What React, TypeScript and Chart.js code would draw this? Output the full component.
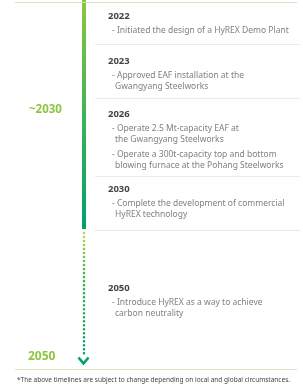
import React, { useEffect, useRef } from "react";
import { Chart, registerables } from "chart.js";

Chart.register(...registerables);

// ---- data ----
const milestoneYears = ["2022", "2023", "2026", "2030", "2050"];
const milestoneItems: string[][][] = [
  [["- Initiated the design of a HyREX Demo Plant"]],
  [["- Approved EAF installation at the", "Gwangyang Steelworks"]],
  [
    ["- Operate 2.5 Mt-capacity EAF at", "the Gwangyang Steelworks"],
    ["- Operate a 300t-capacity top and bottom", "blowing furnace at the Pohang Steelworks"],
  ],
  [["- Complete the development of commercial", "HyREX technology"]],
  [["- Introduce HyREX as a way to achieve", "carbon neutrality"]],
];
const phaseLabels = ["~2030", "2050"];
const footnote =
  "*The above timelines are subject to change depending on local and global circumstances.";

// ---- layout (pixel-like units on hidden linear scales) ----
const W = 303;
const H = 384;
const spineX = 84;
const headingY = [16, 61, 114, 189, 288];
const separatorY = [44, 98, 176, 230];
const phaseLabelY = [110, 357];
const solidEnd = 229;
const dottedStart = 233;
const dottedEnd = 360;

function makeGradient(ctx: any, y0: number, y1: number, stops: [number, string][], fallback: string) {
  const chart = ctx.chart;
  const ys = chart.scales && chart.scales.y;
  if (!chart.chartArea || !ys) return fallback;
  const p0 = ys.getPixelForValue(y0);
  const p1 = ys.getPixelForValue(y1);
  if (!isFinite(p0) || !isFinite(p1)) return fallback;
  const g = chart.ctx.createLinearGradient(0, p0, 0, p1);
  stops.forEach(([o, c]) => g.addColorStop(o, c));
  return g;
}

export default function App() {
  const ref = useRef<HTMLCanvasElement | null>(null);
  useEffect(() => {
    document.body.style.margin = "0";
    const canvas = ref.current!;
    const textPlugin = {
      id: "timelineText",
      afterDraw(chart: any) {
        const ctx = chart.ctx as CanvasRenderingContext2D;
        const xs = chart.scales.x;
        const ys = chart.scales.y;
        const X = (v: number) => xs.getPixelForValue(v);
        const Y = (v: number) => ys.getPixelForValue(v);
        ctx.save();
        // top & bottom rules
        ctx.strokeStyle = "#d6e4c6";
        ctx.lineWidth = 1;
        ctx.beginPath();
        ctx.moveTo(X(15), Y(2.5));
        ctx.lineTo(X(297), Y(2.5));
        ctx.moveTo(X(15), Y(369.5));
        ctx.lineTo(X(297), Y(369.5));
        ctx.stroke();
        // separators
        separatorY.forEach((sy, i) => {
          const last = i === separatorY.length - 1;
          ctx.strokeStyle = last ? "#e2e2e2" : "#ebebeb";
          ctx.setLineDash(last ? [3, 1] : []);
          ctx.beginPath();
          ctx.moveTo(X(95), Y(sy) + 0.5);
          ctx.lineTo(X(300), Y(sy) + 0.5);
          ctx.stroke();
        });
        ctx.setLineDash([]);
        // phase labels
        ctx.textBaseline = "middle";
        ctx.fillStyle = "#8cc63f";
        ctx.font = "bold 11.5px 'Noto Sans'";
        ctx.fillText(phaseLabels[0], X(29), Y(phaseLabelY[0]));
        ctx.font = "bold 12px 'Noto Sans'";
        ctx.fillText(phaseLabels[1], X(28), Y(phaseLabelY[1]));
        // milestones
        milestoneYears.forEach((yr, i) => {
          let y = headingY[i];
          ctx.fillStyle = "#444";
          ctx.font = "bold 9.5px 'Noto Sans'";
          ctx.fillText(yr, X(108), Y(y));
          y += 14.5;
          ctx.fillStyle = "#808080";
          ctx.font = "8.5px 'Noto Sans'";
          milestoneItems[i].forEach((item, k) => {
            if (k > 0) y += 3;
            item.forEach((line, j) => {
              ctx.fillText(line, X(j === 0 ? 112 : 115), Y(y));
              y += 11.5;
            });
          });
        });
        // footnote
        ctx.fillStyle = "#444";
        ctx.font = "6.5px 'Noto Sans'";
        ctx.fillText(footnote, X(17), Y(380.5), 281);
        ctx.restore();
      },
    };

    const chart = new Chart(canvas, {
      type: "line",
      data: {
        datasets: [
          {
            data: [
              { x: spineX, y: 0 },
              { x: spineX, y: solidEnd },
            ],
            borderColor: (c: any) =>
              makeGradient(c, 0, solidEnd, [[0, "#8dc63f"], [0.5, "#3fb35a"], [1, "#00a06c"]], "#4cb050"),
            borderWidth: 4,
            pointRadius: 0,
            borderCapStyle: "butt",
          },
          {
            data: [
              { x: spineX, y: dottedStart },
              { x: spineX, y: dottedEnd - 6 },
            ],
            borderColor: (c: any) =>
              makeGradient(c, dottedStart, dottedEnd, [[0, "#b9d64a"], [0.3, "#4fb84f"], [1, "#00a06c"]], "#4cb050"),
            borderWidth: 2.6,
            borderDash: [0.01, 4],
            borderCapStyle: "round",
            pointRadius: 0,
          },
          {
            data: [
              { x: spineX - 5.5, y: 357.5 },
              { x: spineX - 0.5, y: 363.5 },
              { x: spineX + 4.5, y: 357.5 },
            ],
            borderColor: "#00a06c",
            borderWidth: 2.6,
            borderJoinStyle: "miter",
            borderCapStyle: "butt",
            pointRadius: 0,
            tension: 0,
          },
        ],
      },
      options: {
        animation: false,
        responsive: false,
        maintainAspectRatio: false,
        layout: { padding: 0 },
        plugins: { legend: { display: false }, tooltip: { enabled: false } },
        scales: {
          x: { type: "linear", min: 0, max: W, display: false },
          y: { type: "linear", min: 0, max: H, reverse: true, display: false },
        },
      },
      plugins: [textPlugin],
    } as any);
    return () => chart.destroy();
  }, []);
  return (
    <div style={{ width: W, height: H, background: "#fff" }}>
      <canvas ref={ref} width={W} height={H} style={{ display: "block" }} />
    </div>
  );
}
